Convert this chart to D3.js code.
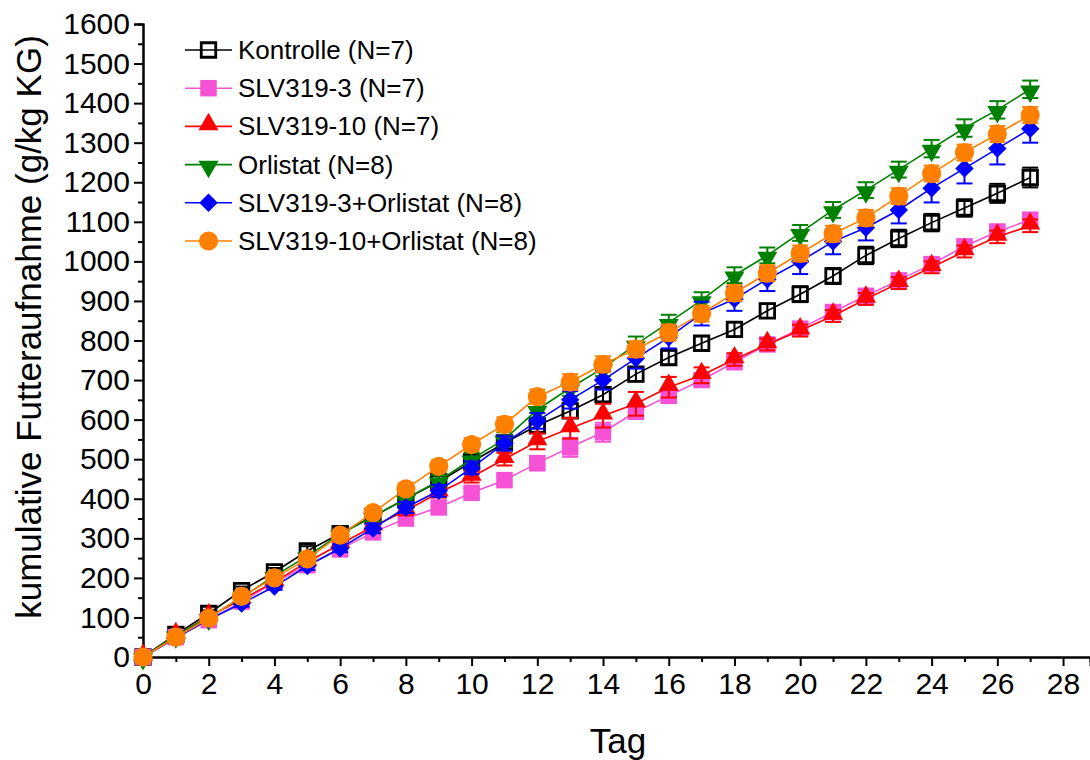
<!DOCTYPE html>
<html>
<head>
<meta charset="utf-8">
<script src="https://cdn.jsdelivr.net/npm/d3@7"></script>
<style>
html,body{margin:0;padding:0;background:#fff;}
svg{display:block;font-family:"Liberation Sans",Arial,sans-serif;}
</style>
</head>
<body>
<svg id="chart" width="1090" height="760"></svg>
<script>
const days = [0,1,2,3,4,5,6,7,8,9,10,11,12,13,14,15,16,17,18,19,20,21,22,23,24,25,26,27];
const xTicks = [0,2,4,6,8,10,12,14,16,18,20,22,24,26,28];
const yTicks = [0,100,200,300,400,500,600,700,800,900,1000,1100,1200,1300,1400,1500,1600];

const seriesNames = ["Kontrolle (N=7)","SLV319-3 (N=7)","SLV319-10 (N=7)","Orlistat (N=8)","SLV319-3+Orlistat (N=8)","SLV319-10+Orlistat (N=8)"];
const seriesColors = ["#000000","#f552d6","#ff0000","#008000","#0000ff","#ff8000"];
const seriesSymbols = ["squareOpen","square","triangleUp","triangleDown","diamond","circle"];

const kontrolle = [0,57,110,168,215,268,312,355,400,443,493,541,585,622,663,715,757,793,828,875,917,963,1015,1058,1098,1135,1172,1212];
const slv3 = [0,50,93,140,188,232,272,315,350,378,415,447,490,530,568,620,660,700,745,790,830,872,913,952,993,1038,1075,1105];
const slv10 = [0,55,102,145,190,240,285,330,370,415,455,500,545,578,610,640,682,712,752,790,825,862,905,945,985,1025,1062,1090];
const orlistat = [0,55,100,150,205,255,310,355,400,445,500,550,625,680,730,790,845,902,965,1015,1072,1130,1180,1232,1285,1337,1383,1435];
const slv3orl = [0,48,95,135,178,230,275,325,378,420,478,540,597,650,700,755,808,868,905,955,1000,1050,1085,1130,1185,1235,1285,1335];
const slv10orl = [0,50,98,153,200,248,308,365,425,482,537,588,658,695,740,778,820,868,920,970,1020,1070,1110,1165,1222,1275,1322,1370];

const errKontrolle = [0,5,8,10,10,12,12,14,15,15,15,15,16,18,18,18,18,18,18,18,20,20,22,22,22,22,24,25];
const errSlv3 = [0,4,6,8,8,10,10,10,12,12,12,12,18,24,24,18,16,15,15,15,15,15,15,15,15,15,18,18];
const errSlv10 = [0,4,6,8,8,10,10,10,12,12,14,16,20,26,30,30,26,20,16,15,15,15,15,15,15,15,16,16];
const errOrlistat = [0,4,6,8,8,10,10,12,14,15,16,18,20,20,20,20,20,20,20,20,20,20,20,20,22,22,22,22];
const errSlv3orl = [0,4,6,8,8,10,10,12,14,15,16,18,20,22,24,26,28,30,30,30,32,32,32,34,36,38,40,35];
const errSlv10orl = [0,4,6,8,8,10,10,12,14,15,16,18,18,20,20,20,20,20,20,20,20,20,20,20,20,20,20,20];

const seriesValues = [kontrolle, slv3, slv10, orlistat, slv3orl, slv10orl];
const seriesErrors = [errKontrolle, errSlv3, errSlv10, errOrlistat, errSlv3orl, errSlv10orl];

const svg = d3.select("#chart");
const x = d3.scaleLinear().domain([0, 28.82]).range([143, 1090]);
const y = d3.scaleLinear().domain([0, 1600]).range([657, 24]);

const xAxis = d3.axisBottom(x).tickValues(xTicks).tickSize(9).tickPadding(7).tickFormat(d3.format("d"));
const xMinor = d3.axisBottom(x).tickValues(d3.range(1,28,2)).tickSize(5).tickFormat("");
const yAxis = d3.axisLeft(y).tickValues(yTicks).tickSize(9).tickPadding(4).tickFormat(d3.format("d"));
const yMinor = d3.axisLeft(y).tickValues(d3.range(50,1600,100)).tickSize(5).tickFormat("");

function styleAxis(g){
  g.select(".domain").attr("stroke","#000").attr("stroke-width",2);
  g.selectAll(".tick line").attr("stroke","#000").attr("stroke-width",2);
  g.selectAll(".tick text").attr("font-size",30).attr("fill","#000").attr("font-family","Liberation Sans, Arial, sans-serif");
}
svg.append("g").attr("transform","translate(0,657)").call(xMinor).call(styleAxis);
svg.append("g").attr("transform","translate(0,657)").call(xAxis).call(styleAxis);
svg.append("g").attr("transform","translate(143,0)").call(yMinor).call(styleAxis);
svg.append("g").attr("transform","translate(143,0)").call(yAxis).call(styleAxis);

svg.append("text").attr("x",618).attr("y",753).attr("text-anchor","middle")
  .attr("font-size",35).text("Tag");
svg.append("text").attr("transform","translate(41,327) rotate(-90)").attr("text-anchor","middle")
  .attr("font-size",35).text("kumulative Futteraufnahme (g/kg KG)");

function symbolPath(kind){
  switch(kind){
    case "squareOpen": return d3.symbol().type(d3.symbolSquare).size(210)();
    case "square": return d3.symbol().type(d3.symbolSquare).size(272)();
    case "triangleUp": return d3.symbol().type(d3.symbolTriangle).size(175)();
    case "triangleDown": return d3.symbol().type(d3.symbolTriangle).size(175)();
    case "diamond": return d3.symbol().type(d3.symbolSquare).size(170)();
    case "circle": return d3.symbol().type(d3.symbolCircle).size(290)();
  }
}
function symbolTransform(kind, px, py){
  if(kind==="triangleDown") return `translate(${px},${py+2}) rotate(180)`;
  if(kind==="triangleUp") return `translate(${px},${py-2})`;
  if(kind==="diamond") return `translate(${px},${py}) rotate(45)`;
  return `translate(${px},${py})`;
}
function drawMarker(g, kind, color, px, py){
  const p = g.append("path").attr("d", symbolPath(kind)).attr("transform", symbolTransform(kind,px,py));
  if(kind==="squareOpen") p.attr("fill","none").attr("stroke",color).attr("stroke-width",2.8);
  else p.attr("fill",color);
}

const line = d3.line().x((d,i)=>x(days[i])).y(d=>y(d));

seriesValues.forEach((vals, s) => {
  const g = svg.append("g");
  const color = seriesColors[s];
  g.append("path").datum(vals).attr("d", line).attr("fill","none").attr("stroke",color).attr("stroke-width",1.6);
  vals.forEach((v,i) => {
    const e = seriesErrors[s][i];
    if(e > 0){
      const px = x(days[i]);
      g.append("line").attr("x1",px).attr("x2",px).attr("y1",y(v-e)).attr("y2",y(v+e)).attr("stroke",color).attr("stroke-width",2);
      [v-e, v+e].forEach(ev => g.append("line").attr("x1",px-8).attr("x2",px+8).attr("y1",y(ev)).attr("y2",y(ev)).attr("stroke",color).attr("stroke-width",2));
    }
  });
  vals.forEach((v,i) => drawMarker(g, seriesSymbols[s], color, x(days[i]), y(v)));
});

const legend = svg.append("g");
seriesNames.forEach((name, s) => {
  const ly = 50 + s*38.2;
  legend.append("line").attr("x1",185).attr("x2",232).attr("y1",ly).attr("y2",ly).attr("stroke",seriesColors[s]).attr("stroke-width",1.6);
  drawMarker(legend, seriesSymbols[s], seriesColors[s], 208.5, ly);
  legend.append("text").attr("x",238).attr("y",ly+9).attr("font-size",26).attr("fill","#000").text(name);
});
</script>
</body>
</html>
